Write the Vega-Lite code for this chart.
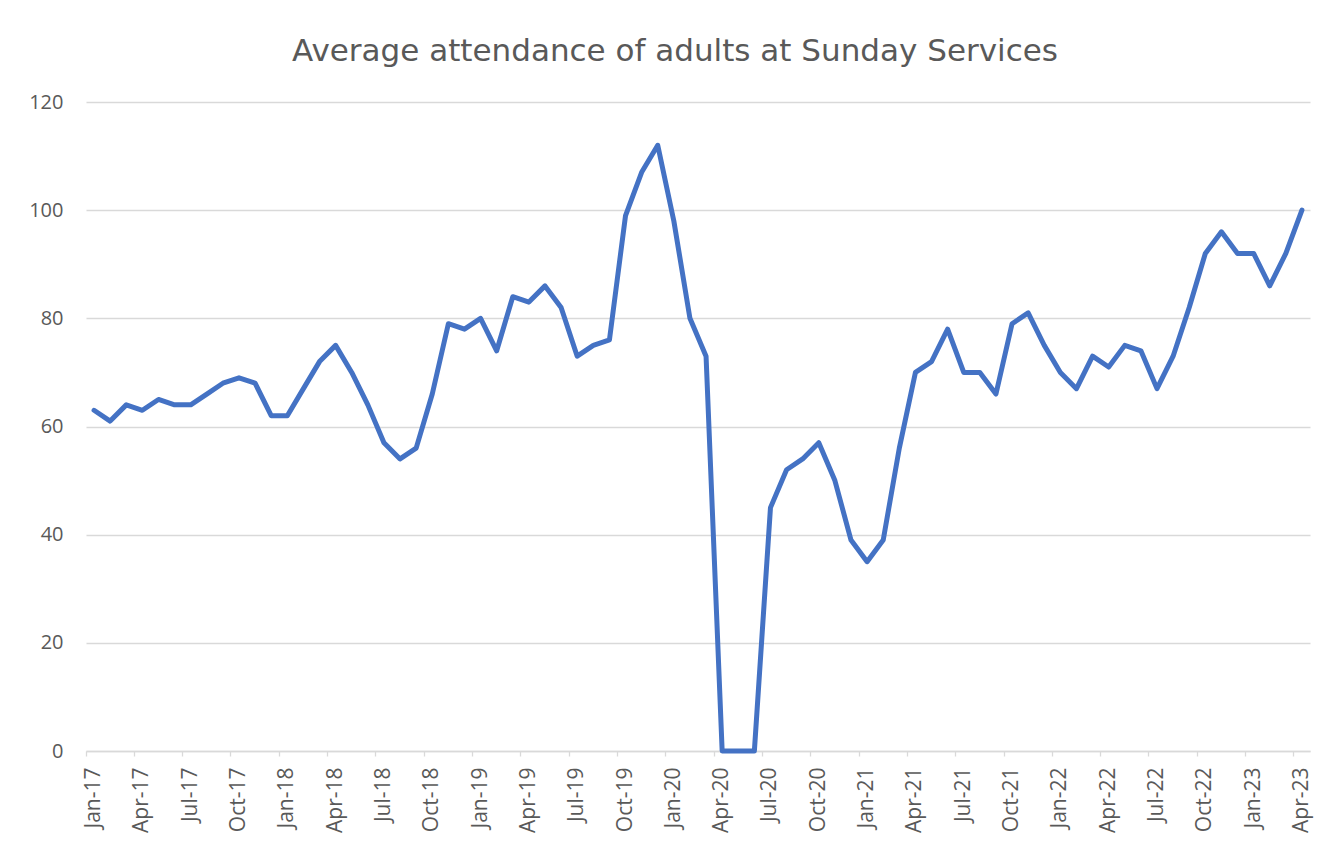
{
  "$schema": "https://vega.github.io/schema/vega-lite/v6.json",
  "autosize": "none",
  "width": 1224,
  "height": 649,
  "padding": {"left": 86, "top": 102, "right": 18, "bottom": 94},
  "background": "white",
  "title": {
    "text": "Average attendance of adults at Sunday Services",
    "font": "DejaVu Sans",
    "fontSize": 31,
    "fontWeight": "normal",
    "color": "#595959",
    "anchor": "middle",
    "baseline": "alphabetic",
    "offset": 0,
    "dx": -23
  },
  "data": {
    "values": [
      {"month": "Jan-17", "value": 63}, {"month": "Feb-17", "value": 61}, {"month": "Mar-17", "value": 64},
      {"month": "Apr-17", "value": 63}, {"month": "May-17", "value": 65}, {"month": "Jun-17", "value": 64},
      {"month": "Jul-17", "value": 64}, {"month": "Aug-17", "value": 66}, {"month": "Sep-17", "value": 68},
      {"month": "Oct-17", "value": 69}, {"month": "Nov-17", "value": 68}, {"month": "Dec-17", "value": 62},
      {"month": "Jan-18", "value": 62}, {"month": "Feb-18", "value": 67}, {"month": "Mar-18", "value": 72},
      {"month": "Apr-18", "value": 75}, {"month": "May-18", "value": 70}, {"month": "Jun-18", "value": 64},
      {"month": "Jul-18", "value": 57}, {"month": "Aug-18", "value": 54}, {"month": "Sep-18", "value": 56},
      {"month": "Oct-18", "value": 66}, {"month": "Nov-18", "value": 79}, {"month": "Dec-18", "value": 78},
      {"month": "Jan-19", "value": 80}, {"month": "Feb-19", "value": 74}, {"month": "Mar-19", "value": 84},
      {"month": "Apr-19", "value": 83}, {"month": "May-19", "value": 86}, {"month": "Jun-19", "value": 82},
      {"month": "Jul-19", "value": 73}, {"month": "Aug-19", "value": 75}, {"month": "Sep-19", "value": 76},
      {"month": "Oct-19", "value": 99}, {"month": "Nov-19", "value": 107}, {"month": "Dec-19", "value": 112},
      {"month": "Jan-20", "value": 98}, {"month": "Feb-20", "value": 80}, {"month": "Mar-20", "value": 73},
      {"month": "Apr-20", "value": 0}, {"month": "May-20", "value": 0}, {"month": "Jun-20", "value": 0},
      {"month": "Jul-20", "value": 45}, {"month": "Aug-20", "value": 52}, {"month": "Sep-20", "value": 54},
      {"month": "Oct-20", "value": 57}, {"month": "Nov-20", "value": 50}, {"month": "Dec-20", "value": 39},
      {"month": "Jan-21", "value": 35}, {"month": "Feb-21", "value": 39}, {"month": "Mar-21", "value": 56},
      {"month": "Apr-21", "value": 70}, {"month": "May-21", "value": 72}, {"month": "Jun-21", "value": 78},
      {"month": "Jul-21", "value": 70}, {"month": "Aug-21", "value": 70}, {"month": "Sep-21", "value": 66},
      {"month": "Oct-21", "value": 79}, {"month": "Nov-21", "value": 81}, {"month": "Dec-21", "value": 75},
      {"month": "Jan-22", "value": 70}, {"month": "Feb-22", "value": 67}, {"month": "Mar-22", "value": 73},
      {"month": "Apr-22", "value": 71}, {"month": "May-22", "value": 75}, {"month": "Jun-22", "value": 74},
      {"month": "Jul-22", "value": 67}, {"month": "Aug-22", "value": 73}, {"month": "Sep-22", "value": 82},
      {"month": "Oct-22", "value": 92}, {"month": "Nov-22", "value": 96}, {"month": "Dec-22", "value": 92},
      {"month": "Jan-23", "value": 92}, {"month": "Feb-23", "value": 86}, {"month": "Mar-23", "value": 92},
      {"month": "Apr-23", "value": 100}
    ]
  },
  "mark": {
    "type": "line",
    "color": "#4472C4",
    "strokeWidth": 5,
    "strokeJoin": "round",
    "strokeCap": "round"
  },
  "encoding": {
    "x": {
      "field": "month",
      "type": "ordinal",
      "sort": null,
      "scale": {"type": "band", "paddingInner": 0, "paddingOuter": 0},
      "axis": {
        "title": null,
        "values": ["Jan-17", "Apr-17", "Jul-17", "Oct-17", "Jan-18", "Apr-18", "Jul-18", "Oct-18",
                   "Jan-19", "Apr-19", "Jul-19", "Oct-19", "Jan-20", "Apr-20", "Jul-20", "Oct-20",
                   "Jan-21", "Apr-21", "Jul-21", "Oct-21", "Jan-22", "Apr-22", "Jul-22", "Oct-22",
                   "Jan-23", "Apr-23"],
        "labelAngle": -90,
        "bandPosition": 0,
        "grid": false,
        "ticks": true,
        "tickSize": 5,
        "tickWidth": 1.3,
        "tickColor": "#d9d9d9",
        "domainColor": "#d9d9d9",
        "domainWidth": 1.3,
        "labelFont": "Open Sans",
        "labelFontSize": 21,
        "labelColor": "#595959",
        "labelPadding": 11
      }
    },
    "y": {
      "field": "value",
      "type": "quantitative",
      "scale": {"domain": [0, 120], "nice": false},
      "axis": {
        "title": null,
        "values": [0, 20, 40, 60, 80, 100, 120],
        "grid": true,
        "gridColor": "#d9d9d9",
        "gridWidth": 1.3,
        "domain": false,
        "ticks": false,
        "tickSize": 0,
        "labelPadding": 23,
        "labelFont": "Open Sans",
        "labelFontSize": 20,
        "labelColor": "#595959"
      }
    }
  },
  "config": {"view": {"stroke": null}}
}
